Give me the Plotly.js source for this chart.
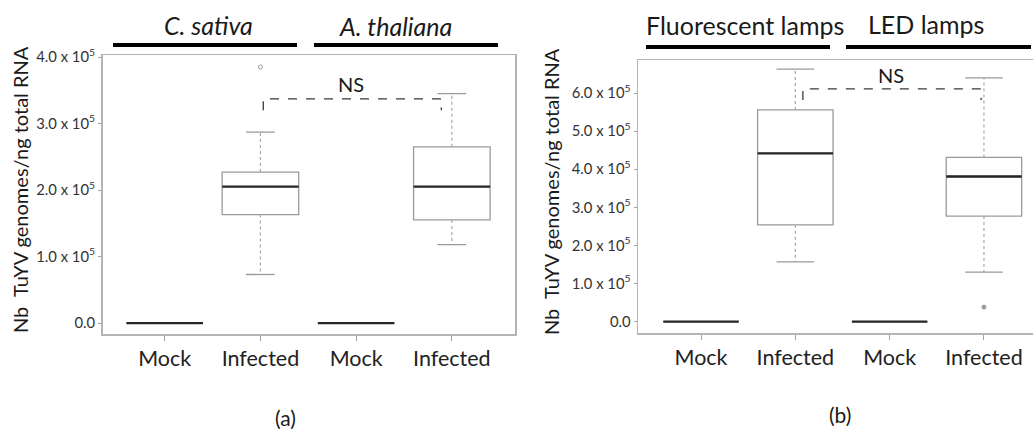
<!DOCTYPE html>
<html><head><meta charset="utf-8">
<script src="https://cdn.plot.ly/plotly-3.0.1.min.js"></script>
<style>html,body{margin:0;padding:0;background:#fff}#chart{width:1033px;height:429px}</style>
</head><body><div id="chart"></div>
<script>
// ---- data ----
const categories = ['Mock', 'Infected', 'Mock', 'Infected'];
const groupsA = ['C. sativa', 'A. thaliana'];
const groupsB = ['Fluorescent lamps', 'LED lamps'];
const panelLabels = ['(a)', '(b)'];
const yTitle = 'Nb  TuYV genomes/ng total RNA';
const sigLabel = 'NS';

// panel (a)
const aLower  = [0,  73000, 0, 118000];
const aQ1     = [0, 163000, 0, 155000];
const aMedian = [0, 205000, 0, 205000];
const aQ3     = [0, 227000, 0, 265000];
const aUpper  = [0, 287000, 0, 345000];
const aOutX = [1];
const aOutY = [385000];
const aTicks = [0, 100000, 200000, 300000, 400000];

// panel (b)
const bLower  = [0, 157000, 0, 130000];
const bQ1     = [0, 254000, 0, 277000];
const bMedian = [0, 442000, 0, 381000];
const bQ3     = [0, 556000, 0, 431000];
const bUpper  = [0, 663000, 0, 640000];
const bOutX = [3];
const bOutY = [38000];
const bTicks = [0, 100000, 200000, 300000, 400000, 500000, 600000];

// comparison brackets (between the two Infected groups)
const aBracket = {x: [1.03, 2.89], top: 337000, end: 320000};
const bBracket = {x: [1.08, 2.97], top: 611000, end: 582000};

const FONT = 'Lato, "Open Sans", sans-serif';
const idx = categories.map((c, i) => i);
function tickText(v) { return v === 0 ? '0.0' : (v / 1e5).toFixed(1) + ' x 10<sup>5</sup>'; }

function panelTraces(xa, ya, lo, q1, med, q3, up, outX, outY, capHalf, outSymbol, bracket) {
  const tr = [];
  tr.push({type: 'box', x: idx, q1: q1, median: med, q3: q3, lowerfence: q1, upperfence: q3,
    width: 0.8, whiskerwidth: 0, fillcolor: '#ffffff', line: {color: '#9a9a9a', width: 1.3},
    xaxis: xa, yaxis: ya, hoverinfo: 'skip', showlegend: false});
  const wx = [], wy = [], cx = [], cy = [], mx = [], my = [];
  idx.forEach(i => {
    if (up[i] > q3[i]) { wx.push(i, i, null); wy.push(q3[i], up[i], null);
      cx.push(i - capHalf, i + capHalf, null); cy.push(up[i], up[i], null); }
    if (lo[i] < q1[i]) { wx.push(i, i, null); wy.push(q1[i], lo[i], null);
      cx.push(i - capHalf, i + capHalf, null); cy.push(lo[i], lo[i], null); }
    mx.push(i - 0.4, i + 0.4, null); my.push(med[i], med[i], null);
  });
  tr.push({type: 'scatter', mode: 'lines', x: wx, y: wy, line: {color: '#a8a8a8', width: 1.2, dash: 'dot'},
    xaxis: xa, yaxis: ya, hoverinfo: 'skip', showlegend: false});
  tr.push({type: 'scatter', mode: 'lines', x: cx, y: cy, line: {color: '#9a9a9a', width: 1.3},
    xaxis: xa, yaxis: ya, hoverinfo: 'skip', showlegend: false});
  tr.push({type: 'scatter', mode: 'lines', x: mx, y: my, line: {color: '#262626', width: 2.3},
    xaxis: xa, yaxis: ya, hoverinfo: 'skip', showlegend: false});
  tr.push({type: 'scatter', mode: 'markers', x: outX, y: outY,
    marker: {symbol: outSymbol, size: 4, color: '#9a9a9a', line: {color: '#9a9a9a', width: 1}},
    xaxis: xa, yaxis: ya, hoverinfo: 'skip', showlegend: false});
  tr.push({type: 'scatter', mode: 'lines',
    x: [bracket.x[0], bracket.x[0], bracket.x[1], bracket.x[1]],
    y: [bracket.end, bracket.top, bracket.top, bracket.end],
    line: {color: '#3a3a3a', width: 1.3, dash: 'dash'},
    xaxis: xa, yaxis: ya, hoverinfo: 'skip', showlegend: false});
  return tr;
}

const data = [].concat(
  panelTraces('x', 'y', aLower, aQ1, aMedian, aQ3, aUpper, aOutX, aOutY, 0.15, 'circle-open', aBracket),
  panelTraces('x2', 'y2', bLower, bQ1, bMedian, bQ3, bUpper, bOutX, bOutY, 0.2, 'circle', bBracket)
);

const xCommon = {tickvals: idx, ticktext: categories, ticks: 'outside', ticklen: 5, tickcolor: '#a0a0a0',
  showline: true, mirror: true, linecolor: '#b4b4b4', linewidth: 1.5, showgrid: false, zeroline: false,
  tickfont: {family: FONT, size: 21.5, color: '#222'}, fixedrange: true};
const yCommon = {ticks: 'outside', ticklen: 3, tickcolor: '#a0a0a0', showline: true, mirror: true,
  linecolor: '#b4b4b4', linewidth: 1.5, showgrid: false, zeroline: false,
  tickfont: {family: FONT, size: 14.8, color: '#333'}, fixedrange: true};

const W = 1033, H = 429;
const px = v => v / W, py = v => 1 - v / H;
function note(text, x, y, size, extra) {
  return Object.assign({text: text, x: px(x), y: py(y), xref: 'paper', yref: 'paper', xanchor: 'center',
    yanchor: 'middle', showarrow: false, font: {family: FONT, size: size, color: '#1a1a1a'}}, extra || {});
}

const layout = {
  width: W, height: H, margin: {l: 0, r: 0, t: 0, b: 0}, paper_bgcolor: '#fff', plot_bgcolor: '#fff',
  showlegend: false,
  xaxis: Object.assign({}, xCommon, {domain: [px(102.5), px(515)], range: [-0.65, 3.66], anchor: 'y'}),
  yaxis: Object.assign({}, yCommon, {domain: [py(334), py(55)], range: [-16500, 403000], anchor: 'x',
    tickvals: aTicks, ticktext: aTicks.map(tickText)}),
  xaxis2: Object.assign({}, xCommon, {domain: [px(638), 1], range: [-0.668, 3.52], anchor: 'y2'}),
  yaxis2: Object.assign({}, yCommon, {domain: [py(333), py(60)], range: [-30000, 687000], anchor: 'x2',
    tickvals: bTicks, ticktext: bTicks.map(tickText)}),
  shapes: [
    {type: 'line', xref: 'paper', yref: 'paper', x0: px(113), x1: px(297), y0: py(45), y1: py(45), line: {color: '#000', width: 4}},
    {type: 'line', xref: 'paper', yref: 'paper', x0: px(314), x1: px(498), y0: py(45), y1: py(45), line: {color: '#000', width: 4}},
    {type: 'line', xref: 'paper', yref: 'paper', x0: px(646), x1: px(830), y0: py(47), y1: py(47), line: {color: '#000', width: 4}},
    {type: 'line', xref: 'paper', yref: 'paper', x0: px(846), x1: px(1031), y0: py(47), y1: py(47), line: {color: '#000', width: 4}}
  ],
  annotations: [
    note('<i>' + groupsA[0] + '</i>', 208, 25, 25),
    note('<i>' + groupsA[1] + '</i>', 395, 26, 25),
    note(groupsB[0], 745, 25, 25),
    note(groupsB[1], 926, 24, 25),
    note(sigLabel, 351, 84, 20),
    note(sigLabel, 891, 75, 20),
    note(yTitle, 20, 190, 20, {textangle: -90}),
    note(yTitle, 551, 192, 20, {textangle: -90}),
    note(panelLabels[0], 285, 417, 21),
    note(panelLabels[1], 840, 414, 21)
  ]
};

Plotly.newPlot('chart', data, layout, {displayModeBar: false, staticPlot: true});
</script>
</body></html>
